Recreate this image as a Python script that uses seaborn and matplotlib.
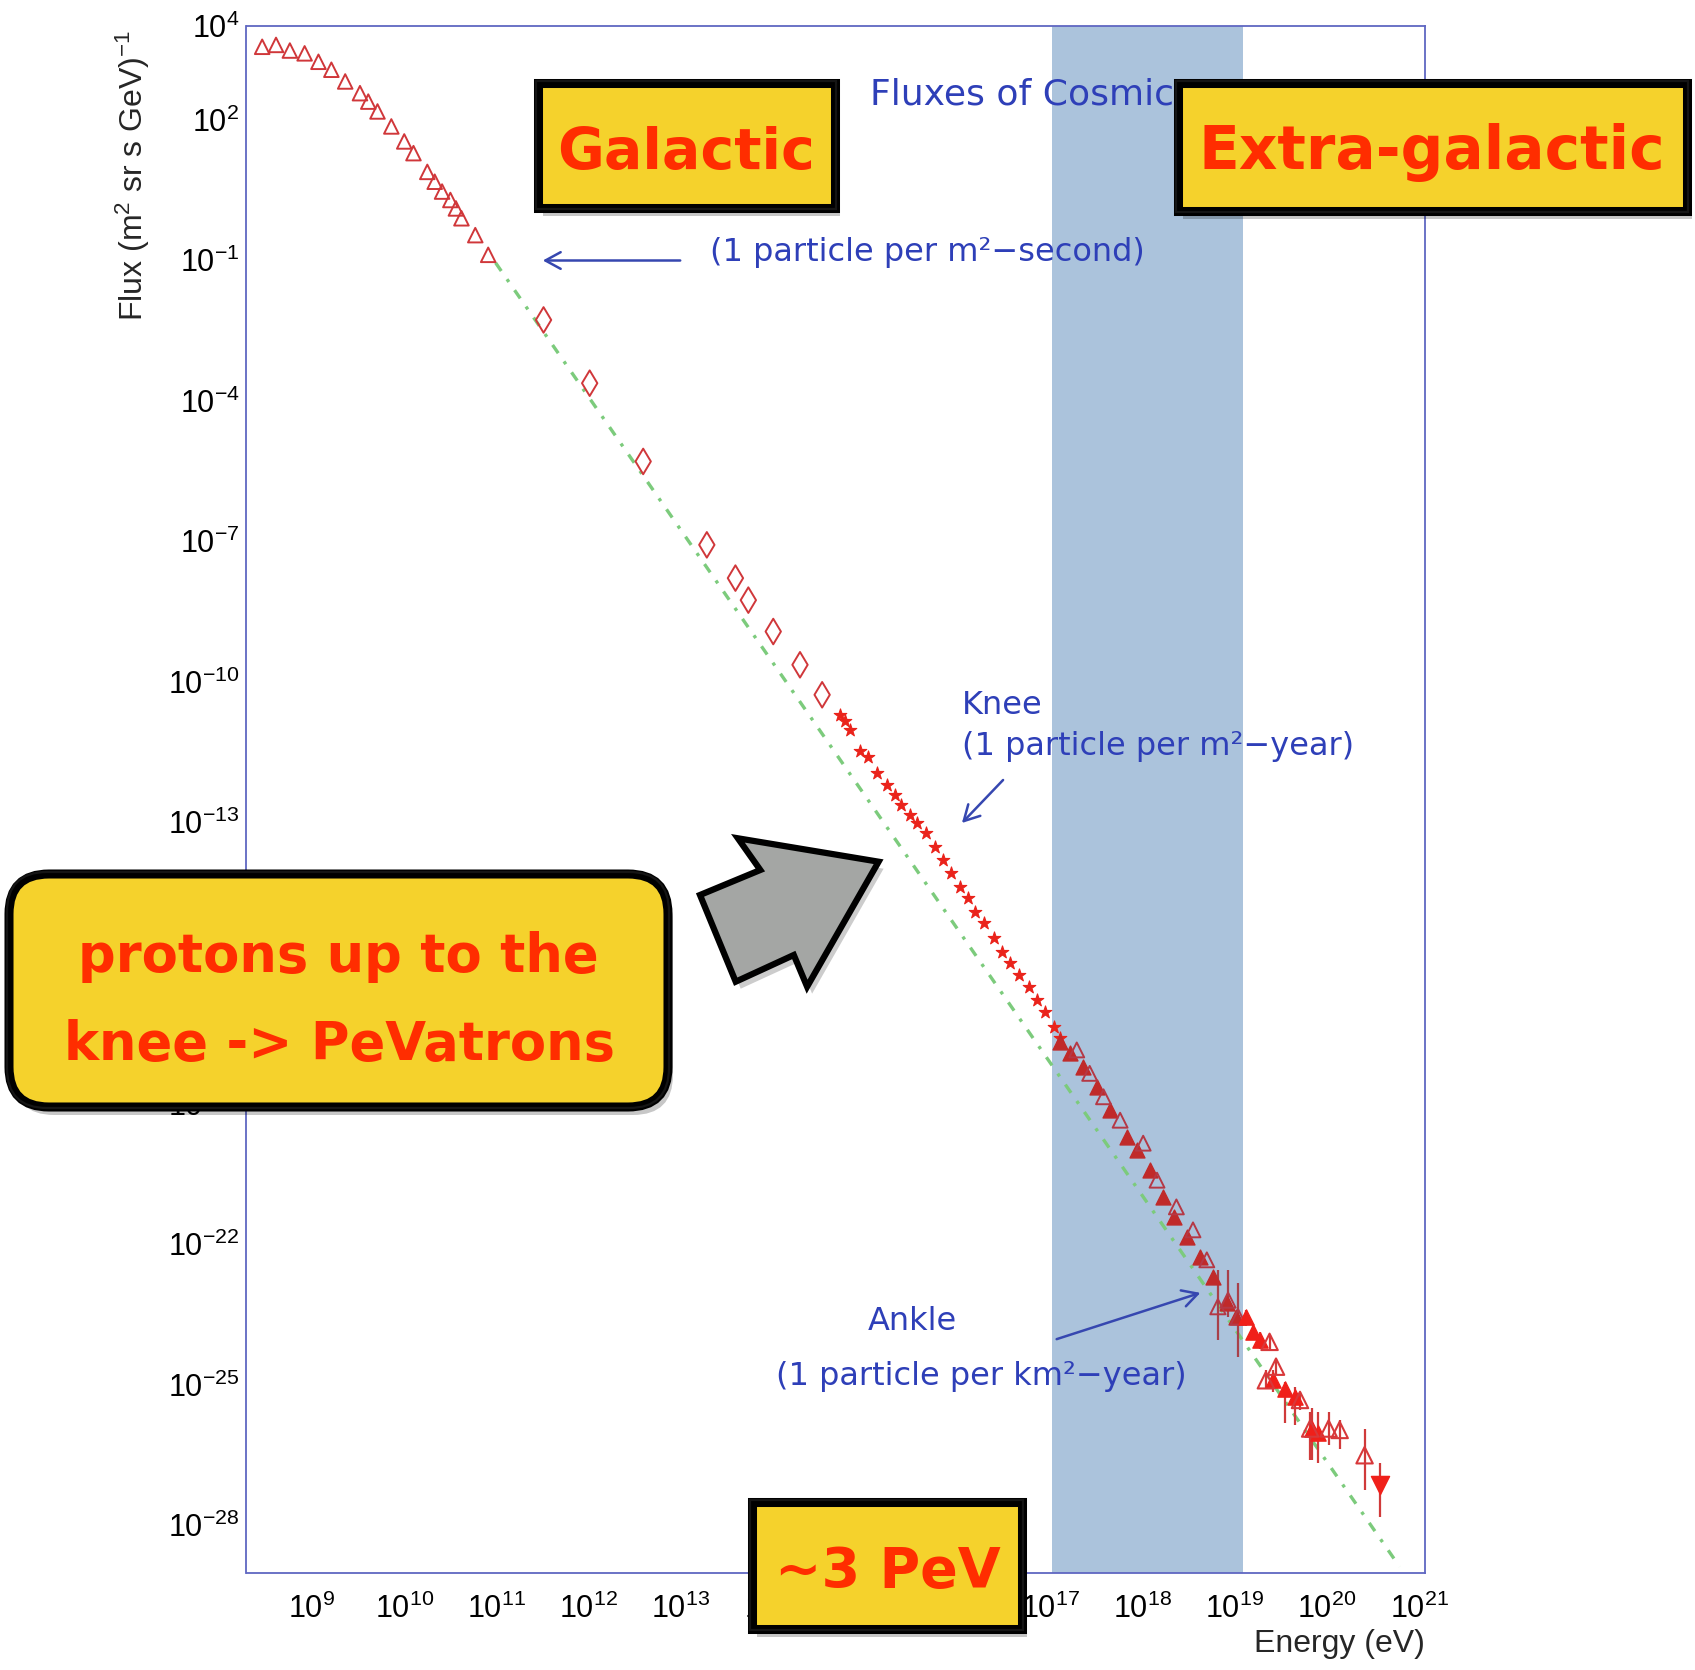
import numpy as np
import pandas as pd
import matplotlib
matplotlib.use("Agg")
import matplotlib.pyplot as plt
import matplotlib.transforms as mtransforms
from matplotlib.patches import FancyBboxPatch, Polygon, FancyArrowPatch
from matplotlib.ticker import FixedLocator, FixedFormatter, NullFormatter
import seaborn as sns

# ---------------- values (log10 units) ----------------
# energy in eV, flux in (m^2 sr s GeV)^-1
low_logE = [8.46, 8.61, 8.76, 8.92, 9.07, 9.21, 9.36, 9.52, 9.61, 9.71, 9.86,
            10.00, 10.10, 10.25, 10.33, 10.41, 10.50, 10.56, 10.62, 10.77, 10.91]
low_logF = [3.55, 3.59, 3.47, 3.41, 3.23, 3.06, 2.81, 2.56, 2.38, 2.17, 1.85,
            1.53, 1.28, 0.88, 0.67, 0.46, 0.28, 0.10, -0.11, -0.47, -0.89]

dia_logE = [11.51, 12.01, 12.59, 13.28, 13.59, 13.73, 14.00, 14.29, 14.53]
dia_logF = [-2.28, -3.63, -5.30, -7.08, -7.79, -8.26, -8.93, -9.64, -10.28]

knee_logE = [14.72, 14.78, 14.83, 14.94, 15.03, 15.12, 15.23, 15.32, 15.39, 15.48,
             15.56, 15.66, 15.75, 15.84, 15.93, 16.02, 16.11, 16.19, 16.28, 16.39,
             16.48, 16.57, 16.66, 16.77, 16.86, 16.95, 17.04, 17.11]
knee_logF = [-10.71, -10.85, -11.03, -11.49, -11.60, -11.96, -12.21, -12.42, -12.63, -12.85,
             -13.02, -13.24, -13.52, -13.81, -14.09, -14.38, -14.62, -14.91, -15.16, -15.48,
             -15.76, -16.01, -16.26, -16.51, -16.79, -17.04, -17.36, -17.61]

band_fill_logE = [17.11, 17.22, 17.36, 17.51, 17.65, 17.83, 17.94, 18.08, 18.23,
                  18.34, 18.48, 18.63, 18.77, 18.92, 19.02]
band_fill_logF = [-17.68, -17.93, -18.22, -18.65, -19.14, -19.71, -20.00, -20.42, -20.99,
                  -21.42, -21.85, -22.27, -22.70, -23.27, -23.56]

band_open_logE = [17.29, 17.43, 17.58, 17.76, 18.01, 18.16, 18.37, 18.55, 18.70]
band_open_logF = [-17.86, -18.36, -18.86, -19.36, -19.85, -20.64, -21.21, -21.70, -22.34]

ankle_logE = [18.82, 18.93, 19.04]
ankle_logF = [-23.34, -23.20, -23.56]
ankle_lo = [-24.05, -23.55, -24.41]
ankle_hi = [-22.56, -22.56, -22.84]

tail_fill_logE = [19.13, 19.20, 19.28, 19.42, 19.55, 19.66, 19.84, 19.91]
tail_fill_logF = [-23.56, -23.87, -24.05, -24.91, -25.10, -25.26, -25.95, -26.04]
tail_fill_lo = [-23.75, -24.05, -24.25, -25.15, -25.83, -25.87, -26.61, -26.68]
tail_fill_hi = [-23.40, -23.70, -23.88, -24.70, -24.95, -25.05, -25.51, -25.58]

tail_open_logE = [19.34, 19.38, 19.45, 19.71, 19.82, 20.02, 20.14, 20.41]
tail_open_logF = [-24.91, -24.09, -24.62, -25.33, -25.94, -25.94, -25.97, -26.51]
tail_open_lo = [-25.10, -24.25, -24.80, -25.55, -26.61, -26.30, -26.37, -27.26]
tail_open_hi = [-24.70, -23.95, -24.45, -25.15, -25.58, -25.58, -25.76, -25.94]

last_logE = [20.58]
last_logF = [-27.15]
last_lo = [-27.82]
last_hi = [-26.68]

green_logE = [10.99, 20.79]
green_logF = [-1.06, -28.89]

band_logE = [17.02, 19.09]

x_tick_exp = list(range(9, 22))
y_tick_exp = [4, 2, -1, -4, -7, -10, -13, -16, -19, -22, -25, -28]

# ---------------- styling ----------------
W, H = 1695, 1670
YELLOW = "#F5D22C"
RED_TXT = "#FF2D00"
BLUE_TXT = "#2E3FB8"
GREEN = "#7CCB7C"
BAND = "#ABC3DC"
SPINE = "#5F67C2"
RED_OPEN = "#D0373A"
RED_STAR = "#EA231B"
RED_DARK = "#C02A2A"
RED_TAIL = "#F0201A"

sns.set_theme(style="white")
plt.rcParams["font.family"] = ["Liberation Sans", "DejaVu Sans"]


def frame(logE, logF):
    return pd.DataFrame({"E": np.power(10.0, logE), "F": np.power(10.0, logF)})


fig = plt.figure(figsize=(W / 100, H / 100), dpi=100)
fig.patch.set_facecolor("white")
ax = fig.add_axes([246.5 / W, 1 - 1573.3 / H, (1425 - 246.5) / W, (1573.3 - 25.7) / H])
ax.set_xscale("log")
ax.set_yscale("log")
ax.set_xlim(10 ** 8.29, 10 ** 21.065)
ax.set_ylim(10 ** -29.03, 10 ** 4.0)

ax.axvspan(10 ** band_logE[0], 10 ** band_logE[1], color=BAND, lw=0, zorder=0.5)

sns.lineplot(data=frame(green_logE, green_logF), x="E", y="F", ax=ax, color=GREEN,
             lw=2.4, linestyle=(0, (3, 3, 1, 3)), errorbar=None, zorder=1.5)

sns.scatterplot(data=frame(low_logE, low_logF), x="E", y="F", ax=ax, marker="^", s=110,
                facecolor="none", edgecolor=RED_OPEN, linewidth=1.4, zorder=3)
sns.scatterplot(data=frame(dia_logE, dia_logF), x="E", y="F", ax=ax, marker="d", s=170,
                facecolor="none", edgecolor=RED_OPEN, linewidth=1.4, zorder=3)
sns.scatterplot(data=frame(knee_logE, knee_logF), x="E", y="F", ax=ax, marker="*", s=90,
                color=RED_STAR, edgecolor=RED_STAR, linewidth=0.8, zorder=3)


def errs(logF, lo, hi):
    f = np.power(10.0, logF)
    return [f - np.power(10.0, lo), np.power(10.0, hi) - f]


ax.errorbar(np.power(10.0, ankle_logE), np.power(10.0, ankle_logF),
            yerr=errs(ankle_logF, ankle_lo, ankle_hi), fmt="none",
            ecolor="#A8404A", elinewidth=1.6, zorder=2.6)
ax.errorbar(np.power(10.0, tail_fill_logE), np.power(10.0, tail_fill_logF),
            yerr=errs(tail_fill_logF, tail_fill_lo, tail_fill_hi), fmt="none",
            ecolor="#D03A3A", elinewidth=1.6, zorder=2.6)
ax.errorbar(np.power(10.0, tail_open_logE), np.power(10.0, tail_open_logF),
            yerr=errs(tail_open_logF, tail_open_lo, tail_open_hi), fmt="none",
            ecolor="#D03A3A", elinewidth=1.6, zorder=2.6)
ax.errorbar(np.power(10.0, last_logE), np.power(10.0, last_logF),
            yerr=errs(last_logF, last_lo, last_hi), fmt="none",
            ecolor="#D03A3A", elinewidth=1.6, zorder=2.6)

sns.scatterplot(data=frame(band_fill_logE, band_fill_logF), x="E", y="F", ax=ax, marker="^",
                s=115, color=RED_DARK, edgecolor=RED_DARK, linewidth=1.0, zorder=3)
sns.scatterplot(data=frame(band_open_logE, band_open_logF), x="E", y="F", ax=ax, marker="^",
                s=115, facecolor="none", edgecolor="#B53845", linewidth=1.4, zorder=3)
sns.scatterplot(data=frame(ankle_logE, ankle_logF), x="E", y="F", ax=ax, marker="^",
                s=120, facecolor="none", edgecolor="#B53845", linewidth=1.4, zorder=3)
sns.scatterplot(data=frame(tail_fill_logE, tail_fill_logF), x="E", y="F", ax=ax, marker="^",
                s=120, color=RED_TAIL, edgecolor=RED_TAIL, linewidth=1.0, zorder=3)
sns.scatterplot(data=frame(tail_open_logE, tail_open_logF), x="E", y="F", ax=ax, marker="^",
                s=140, facecolor="none", edgecolor="#D8383A", linewidth=1.5, zorder=3)
sns.scatterplot(data=frame(last_logE, last_logF), x="E", y="F", ax=ax, marker="v",
                s=170, color=RED_TAIL, edgecolor=RED_TAIL, linewidth=1.0, zorder=3)

# ---------------- axes, ticks ----------------
ax.xaxis.set_major_locator(FixedLocator([10.0 ** e for e in x_tick_exp]))
ax.xaxis.set_major_formatter(FixedFormatter([rf"$\mathregular{{10^{{{e}}}}}$" for e in x_tick_exp]))
ax.xaxis.set_minor_locator(FixedLocator([k * 10.0 ** e for e in range(8, 21) for k in range(2, 10)]))
ax.xaxis.set_minor_formatter(NullFormatter())

ax.yaxis.set_major_locator(FixedLocator([10.0 ** e for e in y_tick_exp]))
ax.yaxis.set_major_formatter(FixedFormatter([rf"$\mathregular{{10^{{{e}}}}}$" for e in y_tick_exp]))
y_minor = [10.0 ** e for e in range(-29, 5) if e not in y_tick_exp] + [5 * 10.0 ** e for e in range(-30, 4)]
ax.yaxis.set_minor_locator(FixedLocator(y_minor))
ax.yaxis.set_minor_formatter(NullFormatter())

for sp in ax.spines.values():
    sp.set_color(SPINE)
    sp.set_linewidth(1.3)
ax.tick_params(axis="both", which="both", direction="in", color="#222222",
               labelcolor="black", top=False, right=False)
ax.tick_params(axis="x", which="major", length=15, width=1.1, labelsize=22, pad=15)
ax.tick_params(axis="x", which="minor", length=8, width=1.0)
ax.tick_params(axis="y", which="both", length=14, width=1.1, labelsize=22, pad=5)
ax.grid(False)

ax.set_xlabel("Energy (eV)", fontsize=23, loc="right")
ax.xaxis.set_label_coords(1.0, -0.036)
ax.set_ylabel(r"Flux (m$\mathregular{^{2}}$ sr s GeV)$\mathregular{^{-1}}$", fontsize=23, loc="top")
ax.yaxis.set_label_coords(-0.080, 0.9974)

# ---------------- annotations (pixel coordinates from the top-left) ----------------
PX = mtransforms.Affine2D().scale(1 / 100.0, -1 / 100.0).translate(0, H / 100.0) + fig.dpi_scale_trans


def blue_text(x, y, s, size=23):
    fig.text(x, y, s, transform=PX, ha="left", va="center", fontsize=size,
             color=BLUE_TXT, family=["DejaVu Sans"], zorder=4)


def blue_arrow(p0, p1):
    fig.add_artist(FancyArrowPatch(p0, p1, transform=PX,
                                   arrowstyle="->,head_length=0.55,head_width=0.3",
                                   mutation_scale=20, color="#3647B0", lw=1.8, zorder=4))


blue_text(870, 95, "Fluxes of Cosmic Rays", 26)
blue_text(710, 252, "(1 particle per m²−second)")
blue_arrow((683, 260.5), (540, 260.5))
blue_text(962, 706, "Knee")
blue_text(962, 746, "(1 particle per m²−year)")
blue_arrow((1005, 778), (960, 825))
blue_text(868, 1321, "Ankle")
blue_text(776, 1376, "(1 particle per km²−year)")
blue_arrow((1054, 1340), (1203, 1292))


def keynote_box(x0, y0, x1, y1, rounding=None):
    w, h = x1 - x0, y1 - y0
    style = f"round,pad=0,rounding_size={rounding}" if rounding else "square,pad=0"
    fig.add_artist(FancyBboxPatch((x0 + 5, y0 + 8), w, h, boxstyle=style, transform=PX,
                                  fc="black", ec="none", alpha=0.22, zorder=9))
    fig.add_artist(FancyBboxPatch((x0, y0), w, h, boxstyle=style, transform=PX,
                                  fc=YELLOW, ec="black", lw=6.5, zorder=10))
    fig.add_artist(FancyBboxPatch((x0 - 2, y0 - 2), w + 3, h + 3, boxstyle=style, transform=PX,
                                  fc="none", ec="#151515", lw=1.6, zorder=10.5))


def red_text(x, y, s, size):
    fig.text(x, y, s, transform=PX, ha="center", va="baseline", fontsize=size,
             color=RED_TXT, fontweight="bold", family=["DejaVu Sans"], zorder=11)


keynote_box(538, 83, 835, 208)
red_text(686, 169, "Galactic", 41)
keynote_box(1178, 83, 1687, 211)
red_text(1432, 169, "Extra-galactic", 43)
keynote_box(752, 1502, 1022, 1629)
red_text(888, 1587, "~3 PeV", 40)
keynote_box(9, 874, 668, 1107, rounding=40)
red_text(338, 972, "protons up to the", 38)
red_text(339, 1060, "knee -> PeVatrons", 38)

arrow_pts = [(878.6, 861.7), (807.1, 986.7), (793.8, 955), (735.7, 981.7),
             (700, 895), (760.3, 870), (737.9, 838.3)]
fig.add_artist(Polygon([(x + 5, y + 7) for x, y in arrow_pts], closed=True, transform=PX,
                       fc="black", ec="none", alpha=0.2, zorder=9))
fig.add_artist(Polygon(arrow_pts, closed=True, transform=PX, fc="#A4A6A4", ec="black",
                       lw=4.5, joinstyle="miter", zorder=10))

fig.savefig("out.png", dpi=100, facecolor="white")
